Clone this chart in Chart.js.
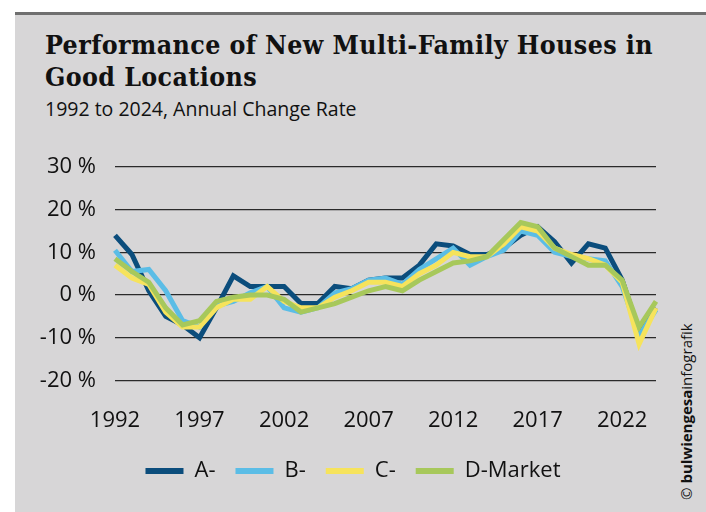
<!DOCTYPE html>
<html>
<head>
<meta charset="utf-8">
<script src="https://cdn.jsdelivr.net/npm/chart.js@4.4.1/dist/chart.umd.min.js"></script>
<style>
  body { margin: 0; background: #fff; width: 706px; height: 512px; overflow: hidden; }
  #panel { position: absolute; left: 15px; top: 12px; width: 691px; height: 500px;
           background: #d7d6d7; border-top: 3px solid #6f6f6f; box-sizing: border-box; }
  #titel { position: absolute; left: 45px; top: 29px; margin: 0;
           font-family: "DejaVu Serif Condensed", "DejaVu Serif", serif; font-stretch: condensed;
           font-weight: bold; font-size: 26.5px; letter-spacing: 0.4px; line-height: 32px;
           color: #111; white-space: nowrap; }
  #untertitel { position: absolute; left: 45px; top: 97px; font-family: "Open Sans", sans-serif;
           font-size: 19.5px; line-height: 24px; color: #111; white-space: nowrap; }
  #quelle { position: absolute; left: 677px; top: 500px; transform-origin: left top;
           transform: rotate(-90deg); font-family: "Open Sans", sans-serif; font-size: 15px;
           line-height: 18px; color: #111; white-space: nowrap; }
  #grafik { position: absolute; left: 0; top: 0; }
</style>
</head>
<body>
<div id="panel"></div>
<h1 id="titel">Performance of New Multi-Family Houses in<br>Good Locations</h1>
<div id="untertitel">1992 to 2024, Annual Change Rate</div>
<div id="quelle">© <b>bulwiengesa</b>infografik</div>
<canvas id="grafik" width="706" height="512"></canvas>
<script>
/* Daten (jährliche Veränderung in %) */
const jahre = ["1992","1993","1994","1995","1996","1997","1998","1999","2000","2001","2002",
  "2003","2004","2005","2006","2007","2008","2009","2010","2011","2012","2013","2014",
  "2015","2016","2017","2018","2019","2020","2021","2022","2023","2024"]

const aLage = [14, 9.5, 1, -5, -7, -10, -3, 4.5, 2, 2, 2, -2, -2, 2, 1.5, 3.5, 4, 4, 7, 12,
  11.5, 9.5, 9.5, 11, 14, 16, 12.5, 7.5, 12, 11, 3.5, -8.5, -3]
const bLage = [10.5, 5.5, 6, 1, -6, -7.5, -2.5, -1.5, 0.5, 2, -3, -4, -3, 0.5, 1.5, 3.5, 4,
  2.5, 6, 8.5, 11, 7, 9, 10.5, 15, 14, 10, 9, 8.5, 8, 2, -9.5, -3.5]
const cLage = [7, 4, 2.5, -4, -7.5, -7.5, -3, -1, -1, 2, -1.5, -3, -3, -0.5, 1, 3, 3, 2, 5, 7,
  10, 9, 9, 12, 16, 15, 11, 9.5, 8.5, 7, 3, -11.5, -3]
const dLage = [8.5, 5.5, 3, -3, -7, -6, -1.5, -0.5, 0, 0, -1, -4, -3, -2, -0.5, 1, 2, 1, 3.5,
  5.5, 7.5, 8, 9, 13, 17, 16, 11, 9, 7, 7, 3.5, -7.5, -1.5]

const yTicks = [-20, -10, 0, 10, 20, 30]

/* Hilfsfunktion für die Datensätze */
function serie(name, werte, farbe, reihenfolge){
    return {
        label: name,
        data: werte,
        borderColor: farbe,
        backgroundColor: farbe,
        borderWidth: 5,
        borderJoinStyle: 'miter',
        tension: 0,
        pointRadius: 0,
        order: reihenfolge
    }
}

const schrift = { family: "'Open Sans', sans-serif", size: 22 }

/* Legende über die ganze Breite zentrieren */
const legendeMitte = {
    id: 'legendeMitte',
    afterLayout(chart){
        chart.legend.left = 0
        chart.legend.right = chart.width
        chart.legend.width = chart.width
    }
}

const grafik = new Chart(document.getElementById("grafik"), {
    type: 'line',
    data: {
      labels: jahre,
      datasets: [
        serie('A-', aLage, '#0b4d7c', 3),
        serie('B-', bLage, '#5bbde6', 2),
        serie('C-', cLage, '#f6e35c', 1),
        serie('D-Market', dLage, '#a7c85b', 0)
      ]
    },
    plugins: [legendeMitte],
    options: {
      responsive: false,
      animation: false,
      layout: { padding: { top: 167, left: 25, right: 50, bottom: 20 } },
      plugins: {
        tooltip: { enabled: false },
        legend: {
          position: 'bottom',
          reverse: true,
          labels: {
            font: schrift,
            color: '#111',
            boxWidth: 38,
            boxHeight: 6,
            padding: 20,
            generateLabels: (chart) => {
              const items = Chart.defaults.plugins.legend.labels.generateLabels(chart)
              items.forEach(it => { it.lineWidth = 0 })
              return items
            }
          }
        }
      },
      scales: {
        x: {
          grid: { display: false },
          border: { display: false },
          afterFit: (s) => { s.height = 59.6 },
          ticks: {
            font: schrift,
            color: '#111',
            padding: 19,
            autoSkip: false,
            maxRotation: 0,
            callback: function(val, i){ return i % 5 === 0 ? jahre[i] : '' }
          }
        },
        y: {
          min: yTicks[0],
          max: yTicks[yTicks.length - 1],
          afterFit: (s) => { s.width = 90 },
          afterBuildTicks: (s) => { s.ticks = yTicks.map(v => ({ value: v })) },
          border: { display: false },
          grid: { color: '#2a2a2a', lineWidth: 1.3, drawTicks: false },
          ticks: {
            font: schrift,
            color: '#111',
            padding: 19,
            callback: (v) => v + ' %'
          }
        }
      }
    }
});
</script>
</body>
</html>
